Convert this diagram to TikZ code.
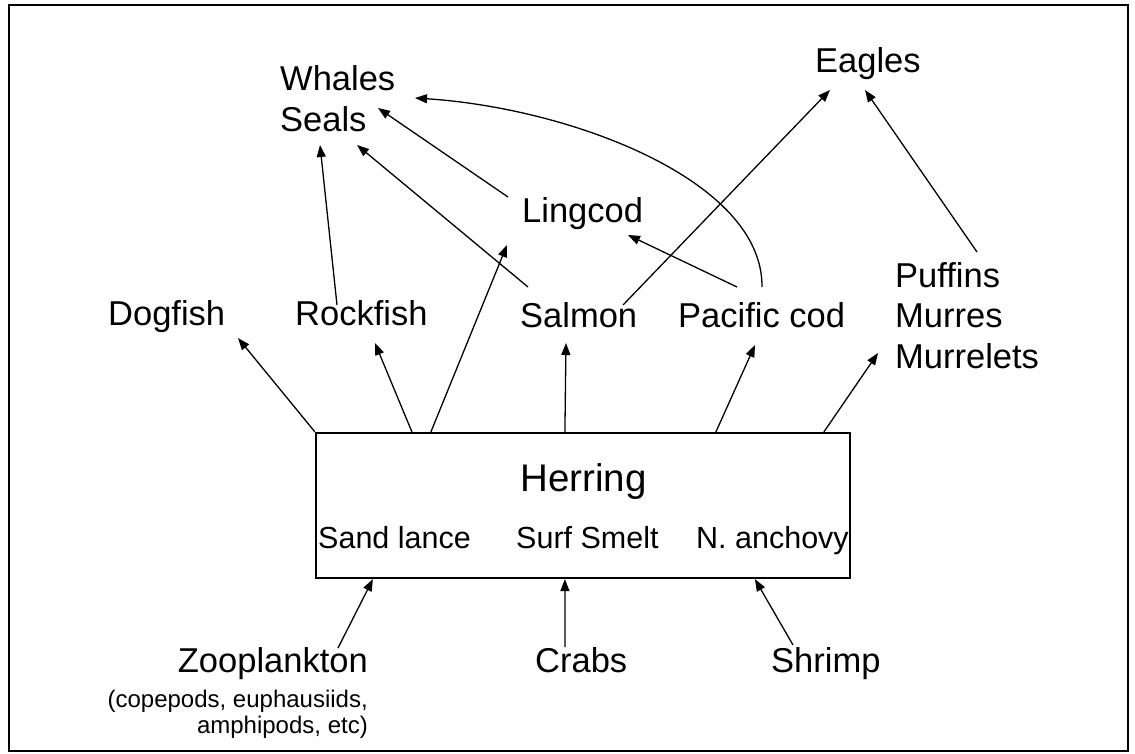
\documentclass[tikz,border=0pt]{standalone}
\usepackage{fontspec}
\setmainfont{Liberation Sans}
\usetikzlibrary{arrows.meta}
\begin{document}
\begin{tikzpicture}[x=1pt,y=-1pt,
  lbl/.style={inner sep=0pt, font=\fontsize{34.5}{40.5}\selectfont},
  mlbl/.style={inner sep=0pt, font=\fontsize{34.5}{40.5}\selectfont, align=left},
  boxlbl/.style={inner sep=0pt, font=\fontsize{30.5}{36}\selectfont},
  sublbl/.style={inner sep=0pt, font=\fontsize{24}{26.5}\selectfont, align=right},
  arr/.style={line width=1.3pt, -{Triangle[length=12pt,width=9pt]}},
  frame/.style={line width=2.5pt},
  herringbox/.style={draw, line width=2.2pt, minimum width=534pt, minimum height=145pt, inner sep=0pt}]
\useasboundingbox (0,0) rectangle (1135,753);
\fill[white] (0,0) rectangle (1135,753);
\draw[frame] (9,5) rectangle (1128,751);

% top labels
\node[mlbl, anchor=north west] (whales) at (280,65.5) {Whales\\Seals};
\node[lbl, anchor=base west] (eagles) at (815,72) {Eagles};
\node[lbl, anchor=base west] (lingcod) at (522,222) {Lingcod};
\node[lbl, anchor=base west] (dogfish) at (108,325) {Dogfish};
\node[lbl, anchor=base west] (rockfish) at (295,325) {Rockfish};
\node[lbl, anchor=base west] (salmon) at (520,327) {Salmon};
\node[lbl, anchor=base west] (pacod) at (678,327) {Pacific cod};
\node[mlbl, anchor=north west] (puffins) at (895,262) {Puffins\\Murres\\Murrelets};

% herring box
\node[herringbox] (box) at (583,505.5) {};
\node[inner sep=0pt, font=\fontsize{38.5}{44}\selectfont, anchor=base west] (herring) at (520,491) {Herring};
\node[boxlbl, anchor=base west] (sandlance) at (318,548) {Sand lance};
\node[boxlbl, anchor=base west] (surfsmelt) at (516,548) {Surf Smelt};
\node[boxlbl, anchor=base west] (anchovy) at (696,548) {N. anchovy};

% bottom labels
\node[lbl, anchor=base east] (zoo) at (368,672) {Zooplankton};
\node[sublbl, anchor=north east] (zoosub) at (368,689.5) {(copepods, euphausiids,\\amphipods, etc)};
\node[lbl, anchor=base west] (crabs) at (535,672) {Crabs};
\node[lbl, anchor=base west] (shrimp) at (771,672) {Shrimp};

% predators of fish to top
\draw[arr] ([shift={(42pt,20pt)}]rockfish.base west) -- ([shift={(40pt,-79.5pt)}]whales.north west);
\draw[arr] ([shift={(8pt,40pt)}]salmon.base west) -- ([shift={(77pt,-79.5pt)}]whales.north west);
\draw[arr] ([shift={(-14pt,25pt)}]lingcod.base west) -- ([shift={(98pt,-42.5pt)}]whales.north west);
\draw[arr] ([shift={(84pt,40pt)}]pacod.base west) .. controls (763,180) and (570,108) .. ([shift={(135pt,-32.5pt)}]whales.north west);
\draw[arr] ([shift={(59pt,40pt)}]pacod.base west) -- ([shift={(106pt,-13pt)}]lingcod.base west);
\draw[arr] ([shift={(103pt,22pt)}]salmon.base west) -- ([shift={(15pt,-18pt)}]eagles.base west);
\draw[arr] ([shift={(82pt,10pt)}]puffins.north west) -- ([shift={(50pt,-18pt)}]eagles.base west);

% herring to predators
\draw[arr] (box.north west) -- ([shift={(130pt,-13pt)}]dogfish.base west);
\draw[arr] ([xshift=97pt]box.north west) -- ([shift={(80pt,-18pt)}]rockfish.base west);
\draw[arr] ([xshift=116pt]box.north west) -- ([shift={(-15pt,-23pt)}]lingcod.base west);
\draw[arr] ([xshift=250pt]box.north west) -- ([shift={(46pt,-16pt)}]salmon.base west);
\draw[arr] ([xshift=401pt]box.north west) -- ([shift={(77pt,-18pt)}]pacod.base west);
\draw[arr] ([xshift=509pt]box.north west) -- ([shift={(-17pt,-91pt)}]puffins.north west);

% prey to herring
\draw[arr] ([shift={(-30pt,24pt)}]zoo.base east) -- ([xshift=58pt]box.south west);
\draw[arr] ([shift={(30pt,25pt)}]crabs.base west) -- ([xshift=250pt]box.south west);
\draw[arr] ([shift={(22pt,27pt)}]shrimp.base west) -- ([xshift=440pt]box.south west);
\end{tikzpicture}
\end{document}
